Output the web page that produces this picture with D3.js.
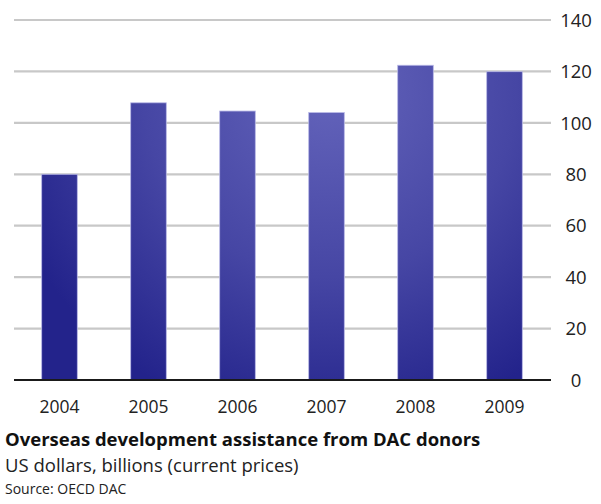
<!DOCTYPE html>
<html>
<head>
<meta charset="utf-8">
<script src="https://cdn.jsdelivr.net/npm/d3@7"></script>
<style>
  body { margin: 0; background: #fff; }
  svg { display: block; font-family: "Open Sans", sans-serif; }
</style>
</head>
<body>
<svg id="chart" width="601" height="504"></svg>
<script>
// chart data
const YEARS = ['2004', '2005', '2006', '2007', '2008', '2009'];
const ODA_VALUES = [80, 107.8, 104.6, 104, 122.4, 119.9];
const Y_TICKS = [0, 20, 40, 60, 80, 100, 120, 140];

const TITLE = 'Overseas development assistance from DAC donors';
const SUBTITLE = 'US dollars, billions (current prices)';
const SOURCE = 'Source: OECD DAC';

const svg = d3.select('#chart');

const x = d3.scaleBand()
  .domain(YEARS)
  .range([15, 549])
  .paddingInner(0.6)
  .paddingOuter(0.3);

const y = d3.scaleLinear()
  .domain([0, 140])
  .range([380, 20]);

// one gradient over the whole plot, lighter in the upper middle
const defs = svg.append('defs');
const grad = defs.append('radialGradient')
  .attr('id', 'barGrad')
  .attr('gradientUnits', 'userSpaceOnUse')
  .attr('cx', 330).attr('cy', 90).attr('r', 340);
grad.append('stop').attr('offset', '0%').attr('stop-color', '#6464bb');
grad.append('stop').attr('offset', '55%').attr('stop-color', '#4646a4');
grad.append('stop').attr('offset', '100%').attr('stop-color', '#23238b');

// gridlines
svg.append('g')
  .selectAll('line')
  .data(Y_TICKS.filter(function(d){ return d > 0; }))
  .enter().append('line')
  .attr('x1', 14).attr('x2', 551)
  .attr('y1', function(d){ return y(d); })
  .attr('y2', function(d){ return y(d); })
  .attr('stroke', '#c8c8c8')
  .attr('stroke-width', 2.2);

// bars
svg.append('g')
  .selectAll('rect')
  .data(YEARS)
  .enter().append('rect')
  .attr('x', function(d){ return x(d); })
  .attr('width', x.bandwidth())
  .attr('y', function(d, i){ return y(ODA_VALUES[i]); })
  .attr('height', function(d, i){ return y(0) - y(ODA_VALUES[i]); })
  .attr('fill', 'url(#barGrad)')
  .attr('stroke', '#b8b8e6')
  .attr('stroke-width', 0.8);

// baseline
svg.append('line')
  .attr('x1', 14).attr('x2', 551)
  .attr('y1', y(0)).attr('y2', y(0))
  .attr('stroke', '#1a1a1a')
  .attr('stroke-width', 2.2);

// y tick labels on the right
svg.append('g')
  .selectAll('text')
  .data(Y_TICKS)
  .enter().append('text')
  .attr('x', 576)
  .attr('y', function(d){ return y(d); })
  .attr('dy', '0.36em')
  .attr('text-anchor', 'middle')
  .attr('font-size', 18.5)
  .attr('fill', '#222')
  .text(function(d){ return d; });

// year labels
svg.append('g')
  .selectAll('text')
  .data(YEARS)
  .enter().append('text')
  .attr('x', function(d){ return x(d) + x.bandwidth() / 2; })
  .attr('y', 413)
  .attr('text-anchor', 'middle')
  .attr('font-size', 17.5)
  .attr('fill', '#222')
  .text(function(d){ return d; });

svg.append('text')
  .attr('x', 5).attr('y', 446)
  .attr('font-size', 18.5)
  .attr('font-weight', 'bold')
  .attr('fill', '#111')
  .text(TITLE);

svg.append('text')
  .attr('x', 5).attr('y', 472)
  .attr('font-size', 18.5)
  .attr('fill', '#222')
  .text(SUBTITLE);

svg.append('text')
  .attr('x', 5).attr('y', 494)
  .attr('font-size', 14)
  .attr('fill', '#222')
  .text(SOURCE);
</script>
</body>
</html>
